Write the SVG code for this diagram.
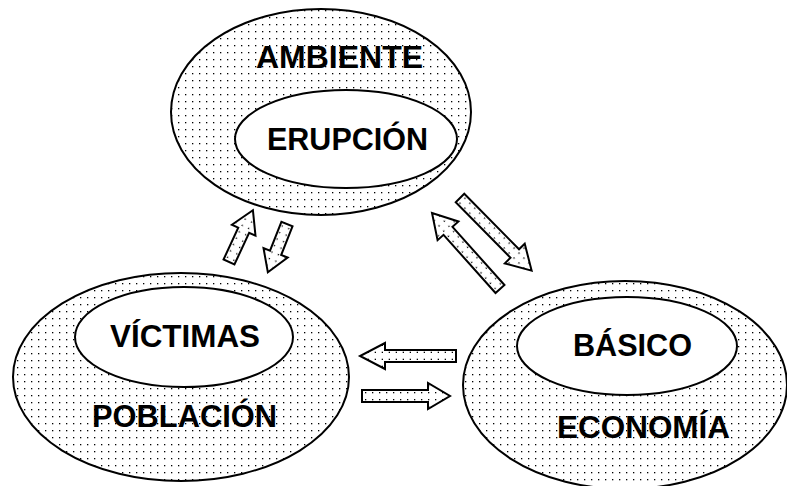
<svg xmlns="http://www.w3.org/2000/svg" width="787" height="486" viewBox="0 0 787 486">
<defs>
<pattern id="dots" patternUnits="userSpaceOnUse" width="7" height="7">
<rect x="3" y="3" width="1.3" height="1.3" fill="#000"/>
</pattern>
<style>
.outer{fill:url(#dots);stroke:#000;stroke-width:2}
.inner{fill:#fff;stroke:#000;stroke-width:2}
.lbl{font-family:"Liberation Sans",Arial,sans-serif;font-weight:bold;font-size:31px;fill:#000;text-anchor:middle}
.arr{fill:url(#dots);stroke:#000;stroke-width:2;stroke-linejoin:miter}
</style>
</defs>
<rect width="787" height="486" fill="#fff"/>
<g id="ambiente">
<ellipse class="outer" cx="321" cy="112" rx="150" ry="103"/>
<ellipse class="inner" cx="346" cy="139" rx="111" ry="49"/>
<text class="lbl" x="339.5" y="68" textLength="167" lengthAdjust="spacingAndGlyphs">AMBIENTE</text>
<text class="lbl" x="347.5" y="150" textLength="161" lengthAdjust="spacingAndGlyphs">ERUPCIÓN</text>
</g>
<g id="poblacion">
<ellipse class="outer" cx="181" cy="377" rx="168" ry="104"/>
<ellipse class="inner" cx="184" cy="337" rx="109" ry="50"/>
<text class="lbl" x="185" y="347" textLength="150" lengthAdjust="spacingAndGlyphs">VÍCTIMAS</text>
<text class="lbl" x="184.5" y="427" textLength="185" lengthAdjust="spacingAndGlyphs">POBLACIÓN</text>
</g>
<g id="economia">
<ellipse class="outer" cx="625" cy="385" rx="162" ry="104"/>
<ellipse class="inner" cx="627" cy="346" rx="110" ry="49"/>
<text class="lbl" x="632.5" y="356" textLength="119" lengthAdjust="spacingAndGlyphs">BÁSICO</text>
<text class="lbl" x="643.5" y="438" textLength="173" lengthAdjust="spacingAndGlyphs">ECONOMÍA</text>
</g>
<g id="connectors">
<path class="arr" transform="translate(229,262) rotate(-65.2)" d="M0,-6 H35 V-13 L57,0 L35,13 V6 H0 Z"/>
<path class="arr" transform="translate(287,224) rotate(111.6)" d="M0,-6 H31 V-13 L52,0 L31,13 V6 H0 Z"/>
<path class="arr" transform="translate(460,198) rotate(45.4)" d="M0,-6 H78 V-14 L102,0 L78,14 V6 H0 Z"/>
<path class="arr" transform="translate(500,289) rotate(-131.8)" d="M0,-6 H78 V-14 L102,0 L78,14 V6 H0 Z"/>
<path class="arr" transform="translate(456,356) rotate(180)" d="M0,-6 H71 V-13 L96,0 L71,13 V6 H0 Z"/>
<path class="arr" transform="translate(362,396)" d="M0,-6 H66 V-13 L88,0 L66,13 V6 H0 Z"/>
</g>
</svg>
